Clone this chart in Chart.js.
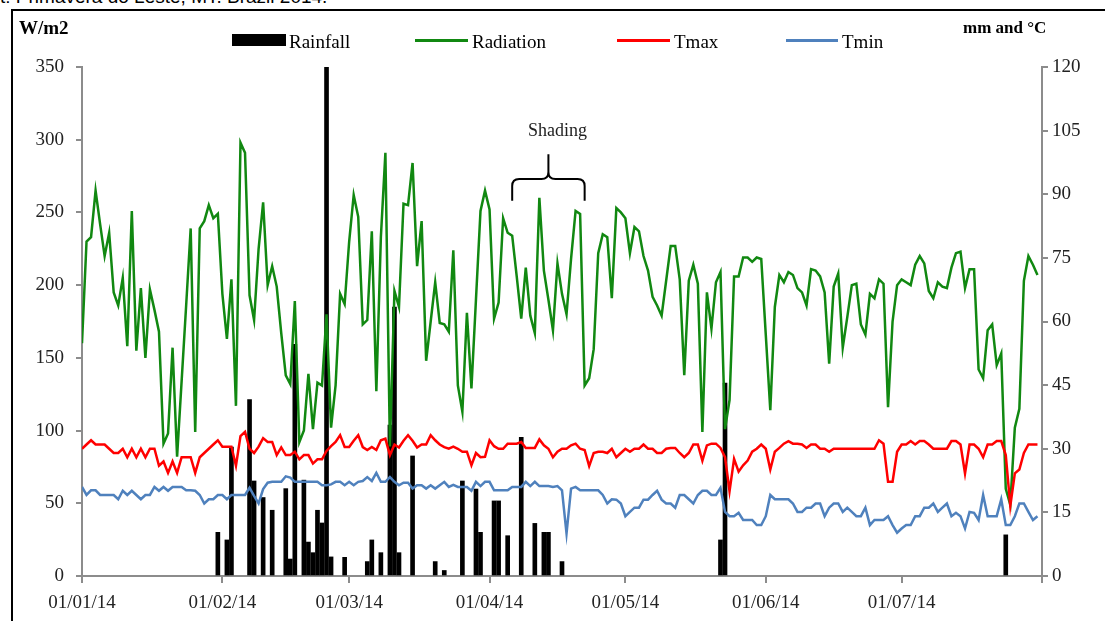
<!DOCTYPE html>
<html>
<head>
<meta charset="utf-8">
<script src="https://cdn.jsdelivr.net/npm/chart.js@4.4.1/dist/chart.umd.min.js"></script>
<style>
  html, body { margin: 0; padding: 0; background: #fff; }
  #wrap { position: relative; width: 1105px; height: 621px; overflow: hidden; font-family: "Liberation Serif", serif; }
  #frame { position: absolute; left: 11px; top: 9px; width: 1200px; height: 700px; border-left: 2px solid #000; border-top: 2px solid #000; }
  #chart { position: absolute; left: 0; top: 0; }
  .lbl { position: absolute; white-space: nowrap; color: #000; line-height: 1; }
  .title { font-family: "Liberation Sans", sans-serif; font-size: 19px; top: -13px; left: 0; }
  .axt { font-weight: bold; font-size: 17px; top: 19px; }
  .leg { font-size: 19px; top: 32px; }
  .sw { position: absolute; }
</style>
</head>
<body>
<div id="wrap">
  <div class="lbl title">t: Primavera do Leste, MT. Brazil 2014.</div>
  <div id="frame"></div>
  <canvas id="chart" width="1105" height="621"></canvas>
  <div class="lbl axt" style="left:19px;font-size:19px;top:18px">W/m2</div>
  <div class="lbl axt" style="left:963px">mm and °C</div>

  <div class="sw" style="left:232px;top:34px;width:54px;height:12px;background:#000"></div>
  <div class="lbl leg" style="left:289px">Rainfall</div>
  <div class="sw" style="left:415px;top:39px;width:53px;height:3px;background:#118811"></div>
  <div class="lbl leg" style="left:472px">Radiation</div>
  <div class="sw" style="left:617px;top:39px;width:53px;height:3px;background:#ff0000"></div>
  <div class="lbl leg" style="left:674px">Tmax</div>
  <div class="sw" style="left:786px;top:39px;width:52px;height:3px;background:#4f81bd"></div>
  <div class="lbl leg" style="left:842px">Tmin</div>
</div>
<script>
// day 0 = 01/01/14, one value per day up to 31/07/14
const radiation = [
  160, 230, 233, 265, 242, 220, 236, 195, 186, 205,
  158, 251, 155, 198, 150, 197, 183, 168, 91, 98,
  157, 82, 134, 186, 239, 99, 239, 244, 255, 246,
  249, 194, 163, 204, 117, 298, 291, 193, 176, 225,
  257, 200, 213, 199, 167, 138, 132, 189, 92, 100,
  139, 101, 133, 131, 180, 102, 131, 194, 187, 230,
  262, 247, 173, 176, 237, 127, 233, 291, 89, 196,
  185, 256, 255, 284, 213, 244, 148, 175, 202, 174,
  173, 168, 224, 131, 113, 181, 129, 190, 251, 265,
  252, 177, 188, 246, 236, 234, 206, 177, 212, 179,
  167, 260, 210, 190, 169, 215, 194, 180, 218, 251,
  249, 131, 136, 156, 222, 235, 233, 191, 253, 250,
  246, 222, 240, 237, 220, 210, 192, 186, 179, 203,
  227, 227, 204, 138, 203, 214, 201, 99, 195, 170,
  202, 209, 101, 121, 206, 206, 219, 219, 216, 219,
  218, 166, 114, 185, 207, 202, 209, 207, 198, 195,
  186, 211, 210, 206, 195, 146, 199, 208, 157, 178,
  200, 201, 173, 166, 194, 191, 204, 201, 116, 175,
  200, 204, 202, 200, 214, 220, 215, 196, 191, 202,
  199, 198, 212, 222, 223, 198, 211, 211, 142, 136,
  169, 173, 145, 153, 60, 49, 102, 115, 203, 220,
  214, 207
];
const tmax = [
  30, 31, 32, 31, 31, 31, 30, 29, 29, 30,
  28, 30, 28, 30, 28, 30, 30, 26, 27, 24.3,
  27, 24.3, 28, 28, 28, 24.3, 28, 29, 30, 31,
  32, 30.5, 30.5, 30.5, 26, 33, 34, 30, 29, 30.5,
  32.5, 31.6, 31.6, 28.5, 30.3, 28.5, 28.5, 29.3, 27.5, 28.5,
  28.5, 26.5, 27.5, 27.5, 29.5, 30.6, 31.6, 33.2, 30.4, 30.4,
  31.9, 33.2, 30.4, 29.7, 30.4, 29.7, 32, 32.4, 28.5, 31,
  30.3, 31.9, 33.2, 31.9, 30.3, 31, 31, 33.2, 32, 31,
  30.4, 30, 30.5, 30, 29.3, 29.3, 26.1, 29, 28, 28.1,
  32, 30.6, 30, 30, 31.2, 31.2, 31.2, 31.6, 30.2, 30.2,
  30.2, 32.2, 30.8, 30, 28, 29.3, 30, 30, 30.8, 31.2,
  30, 29.7, 25.9, 29, 29.3, 29.3, 29, 30, 28, 29,
  30, 29.3, 30, 30, 31, 30, 30, 29, 29, 30,
  30.2, 30.2, 29, 28, 29, 31, 31, 27.2, 30.8, 31.2,
  31.2, 30.2, 28, 20, 27.6, 24.6, 26.1, 27.2, 29.3, 30,
  31, 30, 25.1, 29.3, 30.2, 31.2, 31.8, 31.2, 31.2, 31,
  30.2, 31, 31, 30, 30, 29.3, 30, 30, 30, 30,
  30, 30, 30, 30, 30, 30, 32, 31.2, 22.2, 22.2,
  29.3, 31, 31, 31.8, 31, 31.8, 31.8, 31, 30, 30,
  30, 30, 31.8, 31.8, 31, 24.2, 31, 31, 30, 28,
  31, 31, 31.8, 31.8, 28.5, 16.5, 24.2, 25.1, 29, 31,
  31, 31
];
const tmin = [
  21, 19.1, 20.2, 20.2, 19.1, 19.1, 19.1, 19.1, 18.1, 20.1,
  19.1, 20.1, 19.1, 18.1, 19.1, 19.1, 21, 20.1, 21, 20.1,
  21, 21, 21, 20.2, 20.2, 20.1, 19.1, 17.1, 18.1, 18.1,
  19.1, 19.1, 18.1, 19.1, 19.1, 19.1, 19.1, 20.8, 18.9, 17.1,
  20.5, 22, 22.2, 22.2, 22.2, 23.5, 23.2, 22.2, 22.2, 22.2,
  22.2, 22.2, 22.2, 21.4, 21.4, 21.6, 22.2, 22.2, 21.4, 22.2,
  21.4, 22.2, 22.4, 23.3, 22.4, 24.3, 22.2, 22.2, 23.3, 22.2,
  21.4, 22, 22, 20.6, 21.4, 21.4, 20.6, 21.4, 20.6, 21.4,
  22.2, 21, 21.5, 21, 21, 21, 20.1, 22.2, 21.2, 22.2,
  22.2, 20.2, 20.2, 20.2, 20.2, 21, 21, 21, 22.2, 21.2,
  22.2, 21.2, 21.2, 21.2, 21, 21.2, 20.2, 10, 20.6, 21,
  20.2, 20.2, 20.2, 20.2, 20.2, 19.1, 17.1, 18.1, 18, 17.1,
  14.1, 15.1, 16.1, 16.1, 18, 18, 19.1, 20.1, 18, 17.1,
  17.1, 16.1, 19.1, 19.1, 18.1, 17.1, 19.1, 20.1, 20.1, 19.1,
  19.1, 20.8, 15.1, 14.1, 14.1, 14.9, 13.2, 13.2, 13.2, 12,
  12, 14.1, 19.1, 18.1, 18.1, 18.1, 18.1, 17.1, 15.1, 15.1,
  16.1, 16.1, 17.1, 17.1, 14.1, 16.1, 17.1, 17.1, 15.1, 16.1,
  15.1, 14.1, 14.1, 16.1, 12, 13.2, 13.2, 13.2, 14.1, 12,
  10.2, 11.2, 12, 12, 14.1, 14.1, 16.1, 16.1, 17.1, 15.1,
  16.1, 17.1, 14.1, 14.9, 14.1, 11.2, 15.1, 14.9, 13.2, 19.1,
  14.1, 14.1, 14.1, 18.1, 12, 12, 14.1, 17.1, 17.1, 15.1,
  13.2, 14.1
];
// rainy days only (day index) and their rainfall in mm
const rainDays = [30, 32, 33, 37, 38, 40, 42, 45, 46, 47, 49, 50, 51, 52, 53, 54, 55, 58, 63, 64,
  66, 68, 69, 70, 73, 78, 80, 84, 87, 88, 91, 92, 94, 97, 100, 102, 103, 106, 141, 142, 204];
const rainMm = [10.3, 8.5, 30.4, 41.6, 22.4, 18.5, 15.5, 20.6, 4, 54.6, 22.6, 8, 5.5, 15.5, 12.5, 130, 4.5, 4.4, 3.4, 8.5,
  5.5, 35.6, 63.4, 5.5, 28.3, 3.4, 1.3, 22.4, 20.5, 10.3, 17.7, 17.7, 9.5, 32.7, 12.4, 10.3, 10.3, 3.4, 8.5, 45.5, 9.7];

const monthTicks = [0, 31, 59, 90, 120, 151, 181, 212];
const monthLabels = ["01/01/14", "01/02/14", "01/03/14", "01/04/14", "01/05/14", "01/06/14", "01/07/14", ""];
const shadingDays = [95, 103, 111];

const days = radiation.map((v, i) => i);
const axisGrey = "#8c8c8c";
const tickFont = { family: "Liberation Serif", size: 19 };

const bracePlugin = {
  id: "brace",
  afterDatasetsDraw(chart) {
    const ctx = chart.ctx;
    const x = chart.scales.x, y = chart.scales.y;
    const xl = x.getPixelForValue(shadingDays[0]);
    const xc = x.getPixelForValue(shadingDays[1]);
    const xr = x.getPixelForValue(shadingDays[2]);
    const yb = y.getPixelForValue(258), yh = y.getPixelForValue(273), yp = y.getPixelForValue(290);
    const r = 7;
    ctx.save();
    ctx.strokeStyle = "#000";
    ctx.lineWidth = 2;
    ctx.beginPath();
    ctx.moveTo(xl, yb);
    ctx.lineTo(xl, yh + r);
    ctx.quadraticCurveTo(xl, yh, xl + r, yh);
    ctx.lineTo(xc - r, yh);
    ctx.quadraticCurveTo(xc, yh, xc, yh - r);
    ctx.lineTo(xc, yp);
    ctx.moveTo(xc, yh - r);
    ctx.quadraticCurveTo(xc, yh, xc + r, yh);
    ctx.lineTo(xr - r, yh);
    ctx.quadraticCurveTo(xr, yh, xr, yh + r);
    ctx.lineTo(xr, yb);
    ctx.stroke();
    ctx.fillStyle = "#222";
    ctx.font = "18px 'Liberation Serif'";
    ctx.textAlign = "center";
    ctx.textBaseline = "middle";
    ctx.fillText("Shading", x.getPixelForValue(105), y.getPixelForValue(306));
    ctx.restore();
  }
};

new Chart(document.getElementById("chart"), {
  type: "line",
  data: {
    labels: days,
    datasets: [
      {
        label: "Tmin",
        data: tmin,
        yAxisID: "y1",
        borderColor: "#4f81bd",
        borderWidth: 2.5,
        pointRadius: 0,
        tension: 0,
        order: 1
      },
      {
        label: "Tmax",
        data: tmax,
        yAxisID: "y1",
        borderColor: "#ff0000",
        borderWidth: 2.5,
        pointRadius: 0,
        tension: 0,
        order: 2
      },
      {
        label: "Radiation",
        data: radiation,
        yAxisID: "y",
        borderColor: "#118811",
        borderWidth: 2.5,
        pointRadius: 0,
        tension: 0,
        order: 3
      },
      {
        type: "bar",
        label: "Rainfall",
        data: rainDays.map((d, i) => ({ x: d, y: rainMm[i] })),
        yAxisID: "y1",
        backgroundColor: "#000",
        barThickness: 4,
        grouped: false,
        order: 4
      }
    ]
  },
  options: {
    responsive: false,
    animation: false,
    devicePixelRatio: 1,
    layout: { padding: { left: 0, right: 0, top: 67, bottom: 0 } },
    plugins: { legend: { display: false }, tooltip: { enabled: false } },
    scales: {
      x: {
        type: "linear",
        min: 0,
        max: 212,
        offset: false,
        afterBuildTicks: (axis) => { axis.ticks = monthTicks.map(v => ({ value: v })); },
        afterFit: (s) => { s.height = 45; },
        ticks: {
          autoSkip: false,
          maxRotation: 0,
          padding: 9,
          color: "#222",
          font: tickFont,
          callback: (v) => monthLabels[monthTicks.indexOf(v)]
        },
        grid: { offset: false, drawOnChartArea: false, tickLength: 7, color: axisGrey, lineWidth: 2 },
        border: { color: axisGrey, width: 2 }
      },
      y: {
        position: "left",
        min: 0,
        max: 350,
        afterFit: (s) => { s.width = 82; },
        ticks: { stepSize: 50, padding: 12, color: "#222", font: tickFont },
        grid: { drawOnChartArea: false, tickLength: 6, color: axisGrey, lineWidth: 2 },
        border: { color: axisGrey, width: 2 }
      },
      y1: {
        position: "right",
        min: 0,
        max: 120,
        afterFit: (s) => { s.width = 63; },
        ticks: { stepSize: 15, padding: 4, color: "#222", font: tickFont },
        grid: { drawOnChartArea: false, tickLength: 6, color: axisGrey, lineWidth: 2 },
        border: { color: axisGrey, width: 2 }
      }
    }
  },
  plugins: [bracePlugin]
});
</script>
</body>
</html>
